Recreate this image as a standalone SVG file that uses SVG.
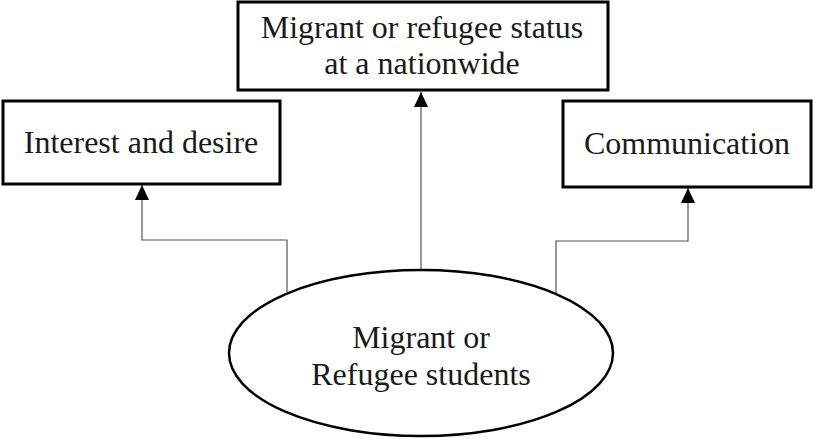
<svg xmlns="http://www.w3.org/2000/svg" width="814" height="439" viewBox="0 0 814 439">
  <style>
    .box { fill: #ffffff; stroke: #000000; stroke-width: 3; }
    .oval { fill: #ffffff; stroke: #000000; stroke-width: 2.5; }
    .label { font-family: "Liberation Serif", "Times New Roman", serif; font-size: 32px; fill: #1a1a1a; text-anchor: middle; }
    .link { fill: none; stroke: #555555; stroke-width: 1.2; marker-end: url(#arrow); }
  </style>
  <defs>
    <!-- filled triangular head, pointing along the path direction -->
    <marker id="arrow" viewBox="0 0 15 14" refX="15" refY="7" markerWidth="15" markerHeight="14" markerUnits="userSpaceOnUse" orient="auto">
      <path d="M0,0 L15,7 L0,14 Z" fill="#000000"/>
    </marker>
  </defs>
  <rect width="814" height="439" fill="#ffffff"/>

  <g id="connectors">
    <path class="link" d="M287,292 L287,240 L142,240 L142,185"/>
    <path class="link" d="M421,270 L421,92"/>
    <path class="link" d="M556,293 L556,241 L688,241 L688,188"/>
  </g>

  <g id="node-status">
    <rect class="box" x="238" y="2" width="370" height="88"/>
    <text class="label" x="422" y="38">Migrant or refugee status</text>
    <text class="label" x="422" y="74">at a nationwide</text>
  </g>

  <g id="node-interest">
    <rect class="box" x="3" y="101" width="277" height="83"/>
    <text class="label" x="141" y="153">Interest and desire</text>
  </g>

  <g id="node-communication">
    <rect class="box" x="563" y="101" width="248" height="86"/>
    <text class="label" x="687" y="154">Communication</text>
  </g>

  <g id="node-students">
    <ellipse class="oval" cx="421" cy="353" rx="192" ry="83"/>
    <text class="label" x="421" y="348">Migrant or</text>
    <text class="label" x="421" y="385">Refugee students</text>
  </g>
</svg>
